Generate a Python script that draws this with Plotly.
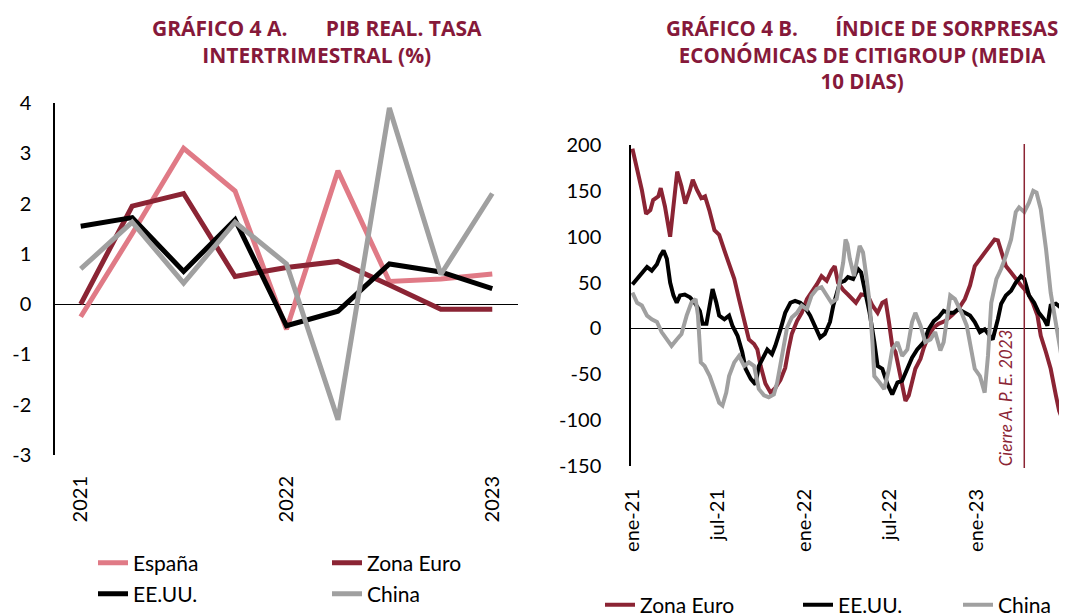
import pandas as pd
import plotly.graph_objects as go

# ---------------- Gráfico 4 A: PIB real, tasa intertrimestral (%) ----------------
quarters = ["2021T1", "2021T2", "2021T3", "2021T4", "2022T1",
            "2022T2", "2022T3", "2022T4", "2023T1"]
quarter_ticks = ["2021T1", "2022T1", "2023T1"]
quarter_ticktext = ["2021", "2022", "2023"]
espana = [-0.25, 1.4, 3.1, 2.25, -0.5, 2.65, 0.45, 0.5, 0.6]
zona_euro_pib = [0.0, 1.95, 2.2, 0.55, 0.73, 0.85, 0.38, -0.1, -0.1]
eeuu_pib = [1.55, 1.72, 0.65, 1.68, -0.43, -0.14, 0.80, 0.64, 0.31]
china_pib = [0.7, 1.63, 0.42, 1.63, 0.8, -2.3, 3.9, 0.59, 2.2]
left_yticks = [-3, -2, -1, 0, 1, 2, 3, 4]
left_yticktext = ["-3", "-2", "-1", "0", "1", "2", "3", "4"]

# ---------------- Gráfico 4 B: Citigroup Economic Surprise Index (10-day mean) ----
base_date = "2021-01-01"   # day offsets below are counted from this date
ez_day = [0, 10, 20, 29, 38, 44, 55, 60, 69, 80, 87, 95, 104, 112, 122, 128, 137, 146,
          154, 163, 174, 184, 195, 205, 216, 226, 237, 247, 258, 265, 272, 282, 293,
          303, 314, 324, 331, 338, 349, 359, 370, 380, 391, 401, 412, 422, 429, 436,
          447, 457, 465, 474, 485, 499, 509, 520, 530, 537, 544, 551, 558, 565, 572,
          579, 586, 593, 600, 611, 618, 628, 639, 649, 663, 677, 691, 705, 716, 726,
          737, 747, 758, 768, 775, 782, 792, 803, 813, 824, 838, 849, 859, 866, 877,
          887, 898, 905, 912]
ez_val = [196, 173, 151, 125, 129, 140, 144, 153, 133, 100, 133, 171, 155, 136, 151, 162,
          151, 142, 144, 129, 107, 102, 85, 70, 54, 32, 7, -12, -17, -23, -41, -60, -70,
          -65, -56, -43, -23, -6, 8, 17, 32, 39, 48, 57, 52, 63, 68, 50, 42, 37, 33, 28,
          37, 36, 25, 17, 28, 30, 7, -19, -26, -44, -66, -79, -73, -57, -44, -33, -21,
          -8, 1, 5, 8, 14, 21, 32, 47, 68, 76, 83, 90, 97, 96, 83, 68, 61, 54, 47, 39,
          28, 14, -8, -26, -44, -73, -90, -99]

us_day = [0, 10, 20, 31, 41, 52, 59, 66, 73, 80, 87, 94, 101, 111, 122, 132, 143, 149,
          157, 164, 170, 178, 184, 195, 205, 212, 223, 233, 240, 251, 261, 268, 279,
          286, 296, 303, 314, 324, 335, 345, 356, 366, 377, 387, 398, 408, 419, 426,
          433, 440, 450, 457, 468, 478, 485, 492, 503, 513, 520, 530, 541, 551, 562,
          572, 583, 593, 604, 618, 628, 639, 649, 660, 670, 681, 691, 705, 716, 726,
          737, 747, 758, 764, 775, 782, 792, 803, 813, 824, 831, 841, 852, 862, 873,
          880, 887, 898, 908, 912]
us_val = [48, 54, 59, 67, 63, 70, 79, 85, 76, 50, 36, 28, 36, 37, 34, 28, 19, 5, 5, 25,
          43, 28, 14, 10, 14, 3, -8, -26, -44, -55, -61, -41, -30, -23, -28, -19, -1,
          17, 28, 30, 28, 23, 14, 3, -10, -6, 7, 25, 39, 50, 52, 56, 54, 65, 61, 43, 17,
          -15, -41, -44, -61, -72, -59, -57, -44, -32, -23, -15, -1, 8, 12, 19, 17, 17,
          21, 17, 14, 7, -4, -1, -8, -12, 10, 27, 36, 41, 50, 57, 54, 36, 28, 17, 10, 3,
          25, 27, 23, 23]

cn_day = [0, 10, 20, 31, 41, 52, 62, 73, 83, 94, 104, 115, 125, 134, 139, 145, 153, 164,
          174, 184, 191, 199, 205, 216, 226, 237, 247, 258, 268, 279, 289, 300, 307,
          314, 321, 328, 338, 349, 359, 370, 380, 391, 401, 412, 422, 433, 440, 447,
          452, 456, 461, 470, 482, 489, 496, 503, 509, 513, 524, 534, 544, 551, 562,
          572, 583, 593, 600, 611, 621, 632, 642, 653, 660, 667, 674, 684, 688, 698,
          709, 719, 726, 737, 747, 754, 761, 772, 782, 792, 803, 813, 820, 831, 841,
          850, 857, 866, 877, 887, 898, 905, 912]
cn_val = [39, 28, 25, 14, 10, 7, -4, -12, -19, -12, -6, 14, 28, 32, 14, -37, -41, -52,
          -66, -81, -84, -70, -52, -37, -30, -41, -37, -41, -66, -73, -75, -72, -59, -37,
          -15, 1, 12, 17, 25, 21, 36, 43, 45, 36, 28, 32, 50, 72, 97, 92, 76, 57, 90, 83,
          57, 28, -15, -52, -59, -66, -44, -23, -15, -30, -23, 7, 17, 3, -15, -12, -4,
          -24, -15, 14, 36, 32, 28, 17, 3, -23, -44, -52, -70, -30, 28, 54, 65, 79, 97,
          127, 132, 127, 137, 150, 148, 130, 87, 39, 7, -15, -37]

right_xticks = ["2021-01-01", "2021-07-01", "2022-01-01", "2022-07-01", "2023-01-01"]
right_xticktext = ["ene-21", "jul-21", "ene-22", "jul-22", "ene-23"]
right_yticks = [-150, -100, -50, 0, 50, 100, 150, 200]
right_yticktext = ["-150", "-100", "-50", "0", "50", "100", "150", "200"]
cierre_ape_date = "2023-04-12"

# ---------------- styling ----------------
PINK = "#E07A86"
WINE = "#8B2434"
BLACK = "#000000"
GREY = "#A0A0A0"
TITLE_COLOR = "#86193A"
FONT = "Lato"
TITLE_FONT = "Open Sans"
W, H = 1067, 614


def to_dates(days):
    return pd.Timestamp(base_date) + pd.to_timedelta(days, unit="D")


fig = go.Figure()

# Left chart
fig.add_trace(go.Scatter(x=quarters, y=espana, name="España", mode="lines",
                         line=dict(color=PINK, width=5), xaxis="x", yaxis="y",
                         legend="legend", legendwidth=189))
fig.add_trace(go.Scatter(x=quarters, y=zona_euro_pib, name="Zona Euro", mode="lines",
                         line=dict(color=WINE, width=5), xaxis="x", yaxis="y",
                         legend="legend"))
fig.add_trace(go.Scatter(x=quarters, y=eeuu_pib, name="EE.UU.", mode="lines",
                         line=dict(color=BLACK, width=5), xaxis="x", yaxis="y",
                         legend="legend2", legendwidth=189))
fig.add_trace(go.Scatter(x=quarters, y=china_pib, name="China", mode="lines",
                         line=dict(color=GREY, width=5), xaxis="x", yaxis="y",
                         legend="legend2"))

# Right chart
fig.add_trace(go.Scatter(x=to_dates(ez_day), y=ez_val, name="Zona Euro", mode="lines",
                         line=dict(color=WINE, width=4), xaxis="x2", yaxis="y2",
                         legend="legend3", legendwidth=153))
fig.add_trace(go.Scatter(x=to_dates(us_day), y=us_val, name="EE.UU.", mode="lines",
                         line=dict(color=BLACK, width=4), xaxis="x2", yaxis="y2",
                         legend="legend3", legendwidth=115))
fig.add_trace(go.Scatter(x=to_dates(cn_day), y=cn_val, name="China", mode="lines",
                         line=dict(color=GREY, width=4), xaxis="x2", yaxis="y2",
                         legend="legend3"))

tickfont = dict(family=FONT, size=20, color="#000000")
legfont = dict(family=FONT, size=21, color="#000000")

# page body adds an 8 px offset; positions below are figure pixels
fig.update_layout(
    template="none",
    width=W, height=H,
    margin=dict(l=0, r=0, t=0, b=0, autoexpand=False),
    paper_bgcolor="white", plot_bgcolor="white",
    font=dict(family=FONT),
    xaxis=dict(domain=[47 / W, 510 / W], type="category", range=[-0.5, 8.5],
               tickvals=quarter_ticks, ticktext=quarter_ticktext, tickangle=-90,
               showgrid=False, showline=False, zeroline=False, ticks="",
               automargin=False, ticklabelstandoff=16, tickfont=tickfont),
    yaxis=dict(domain=[1 - 447 / H, 1 - 95 / H], range=[-3, 4],
               tickvals=left_yticks, ticktext=left_yticktext,
               showgrid=False, showline=True, linecolor="#000000", linewidth=1.5,
               zeroline=True, zerolinecolor="#000000", zerolinewidth=1.3,
               automargin=False, ticks="", ticklabelstandoff=18, tickfont=tickfont),
    xaxis2=dict(domain=[623 / W, 1054 / W], type="date",
                range=["2020-12-29", "2023-07-01"],
                tickvals=right_xticks, ticktext=right_xticktext, tickangle=-90,
                showgrid=False, showline=False, zeroline=False, ticks="",
                automargin=False, ticklabelstandoff=18, tickfont=tickfont, anchor="y2"),
    yaxis2=dict(domain=[1 - 458 / H, 1 - 137 / H], range=[-150, 200],
                tickvals=right_yticks, ticktext=right_yticktext,
                showgrid=False, showline=True, linecolor="#000000", linewidth=1.5,
                zeroline=True, zerolinecolor="#000000", zerolinewidth=1.3,
                automargin=False, ticks="", ticklabelstandoff=24, tickfont=tickfont,
                anchor="x2"),
    legend=dict(orientation="h", x=85 / W, xanchor="left", y=1 - 555 / H,
                yanchor="middle", font=legfont, bgcolor="rgba(0,0,0,0)",
                tracegroupgap=0),
    legend2=dict(orientation="h", x=85 / W, xanchor="left", y=1 - 586 / H,
                 yanchor="middle", font=legfont, bgcolor="rgba(0,0,0,0)",
                 tracegroupgap=0),
    legend3=dict(orientation="h", x=592 / W, xanchor="left", y=1 - 597 / H,
                 yanchor="middle", font=legfont, bgcolor="rgba(0,0,0,0)",
                 tracegroupgap=0),
    showlegend=True,
)

# Vertical marker line: cierre A.P.E. 2023
fig.add_shape(type="line", xref="x2", x0=cierre_ape_date, x1=cierre_ape_date,
              yref="paper", y0=1 - 460 / H, y1=1 - 136 / H,
              line=dict(color=WINE, width=1.5))
fig.add_annotation(text="<i>Cierre A. P. E. 2023</i>", xref="x2", x=cierre_ape_date,
                   xanchor="right", xshift=-6, yref="paper", y=1 - 460 / H,
                   yanchor="bottom", textangle=-90, showarrow=False,
                   font=dict(family=FONT, size=17, color=WINE))

# Titles
fig.add_annotation(text="<b>GRÁFICO 4 A.       PIB REAL. TASA<br>INTERTRIMESTRAL (%)</b>",
                   xref="paper", yref="paper", x=309 / W, y=1 - 4 / H,
                   xanchor="center", yanchor="top", showarrow=False, align="center",
                   font=dict(family=TITLE_FONT, size=21, color=TITLE_COLOR))
fig.add_annotation(text="<b>GRÁFICO 4 B.       ÍNDICE DE SORPRESAS<br>ECONÓMICAS DE CITIGROUP (MEDIA<br>10 DIAS)</b>",
                   xref="paper", yref="paper", x=854 / W, y=1 - 4 / H,
                   xanchor="center", yanchor="top", showarrow=False, align="center",
                   font=dict(family=TITLE_FONT, size=20.5, color=TITLE_COLOR))

fig.write_html("out.html")
